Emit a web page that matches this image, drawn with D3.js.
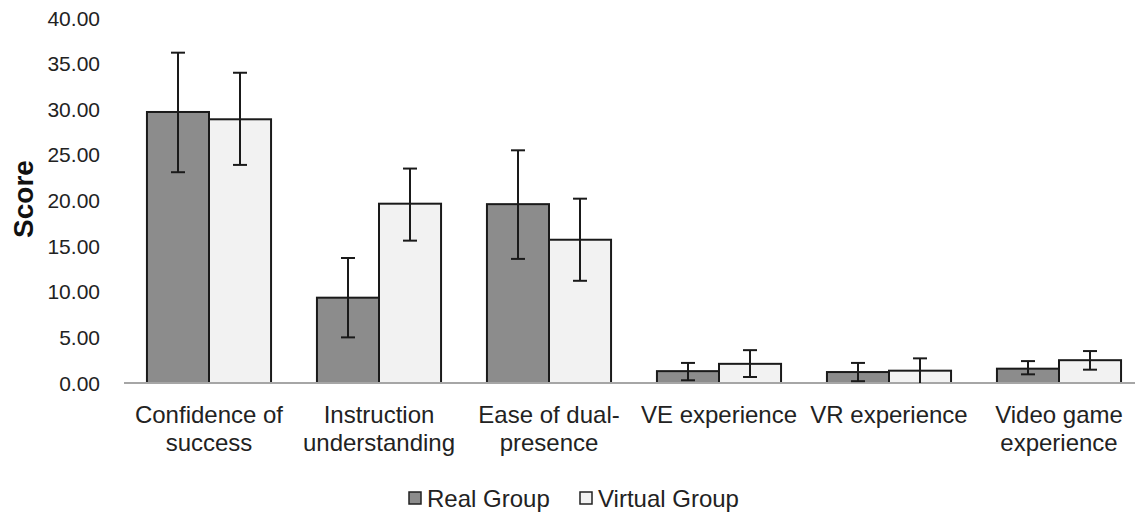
<!DOCTYPE html>
<html><head><meta charset="utf-8">
<script src="https://cdn.jsdelivr.net/npm/d3@7"></script>
<style>body{margin:0;background:#fff}</style>
</head><body>
<svg id="c" width="1135" height="515"></svg>
<script>
const categories = [["Confidence of","success"],["Instruction","understanding"],["Ease of dual-","presence"],["VE experience"],["VR experience"],["Video game","experience"]];
const seriesNames = ["Real Group","Virtual Group"];
const realValues = [29.7, 9.35, 19.6, 1.3, 1.2, 1.57];
const realLow = [23.1, 5.0, 13.6, 0.3, 0.2, 0.95];
const realHigh = [36.2, 13.7, 25.5, 2.2, 2.2, 2.4];
const virtualValues = [28.9, 19.65, 15.7, 2.1, 1.35, 2.5];
const virtualLow = [23.9, 15.6, 11.2, 0.66, 0.0, 1.46];
const virtualHigh = [34.0, 23.5, 20.2, 3.6, 2.7, 3.5];
const tickValues = [0,5,10,15,20,25,30,35,40];

const colors = ["#8c8c8c", "#f2f2f2"];
const svg = d3.select("#c");
const font = "'Liberation Sans', Arial, sans-serif";

const y = d3.scaleLinear().domain([0,40]).range([383, 18]);
const x = d3.scaleBand().domain(d3.range(categories.length)).range([124, 1144]).paddingInner(0.27).paddingOuter(0.135);
const xs = d3.scaleBand().domain([0,1]).range([0, x.bandwidth()]);

// y tick labels
svg.append("g").selectAll("text").data(tickValues).join("text")
  .attr("x", 100).attr("y", d => y(d)).attr("dy", "0.36em")
  .attr("text-anchor", "end").style("font-family", font).style("font-size", "21px").attr("fill", "#222")
  .text(d => d.toFixed(2));

// y title
svg.append("text").attr("transform", "translate(33,199) rotate(-90)")
  .attr("text-anchor", "middle").style("font-family", font).style("font-size", "28px").style("font-weight", "bold")
  .attr("fill", "#111").text("Score");

const series = [
  {vals: realValues, lo: realLow, hi: realHigh},
  {vals: virtualValues, lo: virtualLow, hi: virtualHigh}
];

series.forEach((s, si) => {
  const g = svg.append("g");
  g.selectAll("rect").data(s.vals).join("rect")
    .attr("x", (d,i) => x(i) + xs(si)).attr("width", xs.bandwidth())
    .attr("y", d => y(d)).attr("height", d => y(0) - y(d))
    .attr("fill", colors[si]).attr("stroke", "#1a1a1a").attr("stroke-width", 2);
});

// axis line
svg.append("line").attr("x1", 124).attr("x2", 1135).attr("y1", y(0)).attr("y2", y(0))
  .attr("stroke", "#a6a6a6").attr("stroke-width", 2);

// error bars
series.forEach((s, si) => {
  const g = svg.append("g").attr("stroke", "#1a1a1a").attr("stroke-width", 2);
  s.vals.forEach((d, i) => {
    const cx = x(i) + xs(si) + xs.bandwidth()/2;
    g.append("line").attr("x1", cx).attr("x2", cx).attr("y1", y(s.lo[i])).attr("y2", y(s.hi[i]));
    g.append("line").attr("x1", cx-7).attr("x2", cx+7).attr("y1", y(s.hi[i])).attr("y2", y(s.hi[i]));
    if (s.lo[i] > 0.05) g.append("line").attr("x1", cx-7).attr("x2", cx+7).attr("y1", y(s.lo[i])).attr("y2", y(s.lo[i]));
  });
});

// category labels
const cl = svg.append("g");
categories.forEach((lines, i) => {
  const t = cl.append("text").attr("x", x(i) + x.bandwidth()/2).attr("y", 423)
    .attr("text-anchor", "middle").style("font-family", font).style("font-size", "24px").attr("fill", "#222");
  lines.forEach((ln, k) => t.append("tspan").attr("x", x(i) + x.bandwidth()/2).attr("dy", k ? 28 : 0).text(ln));
});

// legend
const legX = [409, 580];
seriesNames.forEach((n, i) => {
  svg.append("rect").attr("x", legX[i]).attr("y", 492).attr("width", 12).attr("height", 12)
    .attr("fill", colors[i]).attr("stroke", "#222").attr("stroke-width", 1.5);
  svg.append("text").attr("x", legX[i] + 18).attr("y", 507).style("font-family", font).style("font-size", "24px")
    .attr("fill", "#222").text(n);
});
</script>
</body></html>
